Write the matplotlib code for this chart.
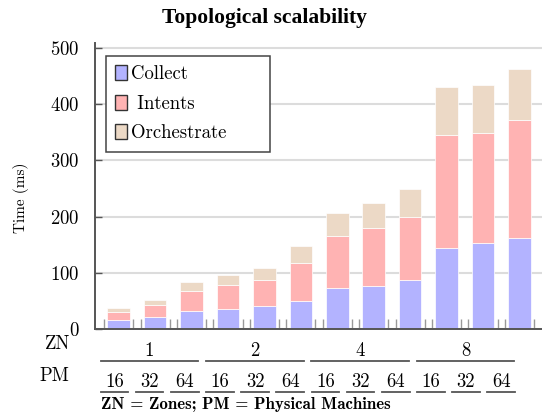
import numpy as np
import matplotlib.pyplot as plt
from matplotlib.patches import Patch
from matplotlib.lines import Line2D

plt.rcParams["font.family"] = "cmr10"
plt.rcParams["axes.unicode_minus"] = False
plt.rcParams["axes.formatter.use_mathtext"] = True

# data (ms per stage, stacked)
zones = ["1", "2", "4", "8"]
machines = ["16", "32", "64"]
collect = [16.5, 21.5, 32.5, 36, 41.5, 50.5, 73, 77, 86.5, 145, 152.5, 162]
intents = [13.5, 21, 35.5, 42, 46.5, 67, 93, 103, 113.5, 200, 197, 210.5]
orchestrate = [6.5, 9.5, 15.5, 18, 20.5, 29.5, 40, 43.5, 48.5, 86, 85, 91]
series = ["Collect", " Intents", "Orchestrate"]
colors = ["#b3b3ff", "#ffb3b3", "#ecd9c6"]

W, H = 542, 418
fig = plt.figure(figsize=(W / 100, H / 100), dpi=100)
ax = fig.add_axes([95 / W, 1 - 329 / H, 447 / W, 286 / H])

x = np.arange(len(collect))
bottom = np.zeros(len(x))
for vals, c in zip([collect, intents, orchestrate], colors):
    ax.bar(x, vals, 0.62, bottom=bottom, color=c, edgecolor="white",
           linewidth=0.5, zorder=2)
    bottom += np.array(vals)

ax.set_xlim(-0.65, len(x) - 0.38)
ax.set_ylim(0, 509)
ax.set_yticks([0, 100, 200, 300, 400, 500])
ax.yaxis.grid(True, color="#dcdcdc", linewidth=1.5, zorder=0)
ax.set_axisbelow(True)

for s in ["top", "right"]:
    ax.spines[s].set_visible(False)
for s in ["left", "bottom"]:
    ax.spines[s].set_color("#555555")
    ax.spines[s].set_linewidth(1.4)

# tick pairs around each bar
ticks = np.sort(np.concatenate([x - 0.4, x + 0.4]))
ax.set_xticks(ticks)
ax.set_xticklabels([])
ax.tick_params(axis="x", direction="in", length=7, color="#999999", width=1)
ax.tick_params(axis="y", direction="in", length=5, color="#555555", width=1,
               labelsize=13.5, pad=11)

ax.set_ylabel("Time (ms)", fontsize=11)
ax.yaxis.set_label_coords(-0.148, 0.46)

handles = [Patch(facecolor=c, edgecolor="#333333", linewidth=1) for c in colors]
leg = ax.legend(handles, series, loc="upper left",
                bbox_to_anchor=(0.0246, 0.62, 0.367, 0.335), mode="expand",
                borderaxespad=0, fontsize=13.5, fancybox=False, framealpha=1,
                edgecolor="#444444", handlelength=0.6, handleheight=0.85,
                handletextpad=0.25, labelspacing=0.62, borderpad=0.5)
leg.get_frame().set_linewidth(1.1)

fig.text(264.5 / W, 1 - 18.5 / H, "Topological scalability",
         family="Liberation Serif", weight="bold", fontsize=15.5,
         ha="center", va="center")


# table under the axis, in pixel coords of the figure
def fx(px):
    return px / W


def fy(py):
    return 1 - py / H


rule = dict(color="#555555", linewidth=1.3, transform=fig.transFigure)
fig.text(fx(58), fy(344.5), "ZN", fontsize=13.5, ha="center", va="center")
fig.text(fx(54), fy(376), "PM", fontsize=13.5, ha="center", va="center")

for g, z in enumerate(zones):
    x0 = 100.7 + g * 105.3
    fig.text(fx(x0 + 48.8), fy(350.8), z, fontsize=13.5, ha="center", va="center")
    fig.add_artist(Line2D([fx(x0), fx(x0 + 97.6)], [fy(360.7)] * 2, **rule))
    for k, m in enumerate(machines):
        p0 = 100.7 + (g * 3 + k) * 35.15
        fig.text(fx(p0 + 13.8), fy(381.7), m, fontsize=13.5, ha="center", va="center")
        fig.add_artist(Line2D([fx(p0), fx(p0 + 27.6)], [fy(392.3)] * 2, **rule))

fig.text(fx(100.7), fy(405), "ZN = Zones; PM = Physical Machines",
         family="cmb10", fontsize=12.2, ha="left", va="center")

fig.savefig("out.png", dpi=100)
